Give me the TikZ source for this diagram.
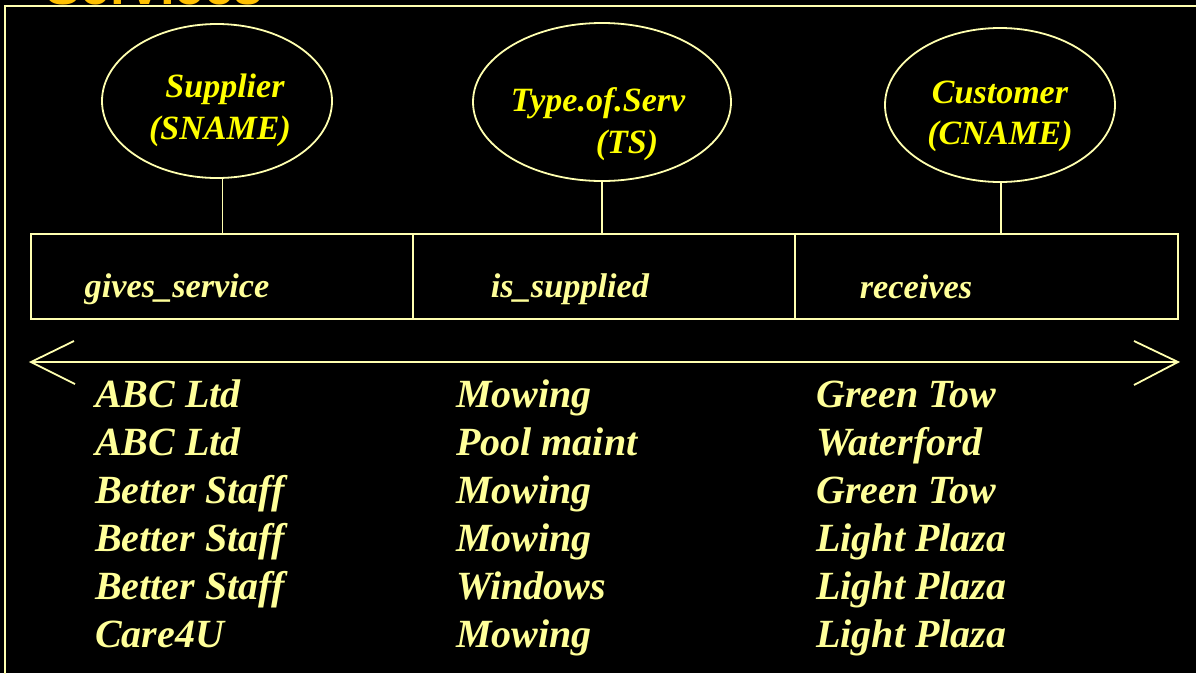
\documentclass[tikz,border=0pt]{standalone}
\usepackage{fontspec}
\setmainfont{Liberation Serif}
\newfontfamily\titlefont{Liberation Sans}
\usetikzlibrary{shapes.geometric}
\definecolor{frameline}{HTML}{FFFFB0}
\definecolor{rowtext}{HTML}{FFFF99}
\definecolor{attrtext}{HTML}{FFFF00}
\definecolor{titletext}{HTML}{FFC000}
\tikzset{
  rule/.style={draw=frameline, line width=1.8pt},
  attr/.style={ellipse, rule, minimum width=230pt, minimum height=154pt, inner sep=0pt},
  attrlabel/.style={text=attrtext, inner sep=0pt, font=\fontsize{34}{40}\selectfont\bfseries\itshape},
  cell/.style={rectangle, rule, minimum height=85pt, inner sep=0pt},
  rolelabel/.style={text=rowtext, inner sep=0pt, anchor=base, font=\fontsize{34.3}{40}\selectfont\bfseries\itshape},
  entry/.style={text=rowtext, inner sep=0pt, anchor=base west, font=\fontsize{40}{48}\selectfont\bfseries\itshape},
}
\begin{document}
\begin{tikzpicture}[x=1pt, y=-1pt]
  \fill[black] (0,0) rectangle (1196,673);
  \useasboundingbox (0,0) rectangle (1196,673);

  % heading, mostly above the page edge
  \node[anchor=base west, inner sep=0pt, text=titletext,
        font=\fontsize{53}{60}\selectfont\titlefont\bfseries] (heading) at (45,4) {Services};

  % outer frame running off the right and bottom edges
  \draw[rule] (5,700) -- (5,6) -- (1220,6);

  % attribute ellipses
  \node[attr] (supplier) at (217,101) {};
  \node[attr, minimum width=258pt, minimum height=158pt] (typeserv) at (602,102) {};
  \node[attr] (customer) at (1000,105) {};

  \node[attrlabel, anchor=base] (supA) at (225,97) {Supplier};
  \node[attrlabel, anchor=base] (supB) at (220,139) {(SNAME)};
  \node[attrlabel, anchor=base] (tsA) at (598,111) {Type.of.Serv};
  \node[attrlabel, anchor=base] (tsB) at (627,153) {(TS)};
  \node[attrlabel, anchor=base] (cuA) at (1000,103) {Customer};
  \node[attrlabel, anchor=base] (cuB) at (1000,144) {(CNAME)};

  % relationship role cells
  \node[cell, minimum width=382pt] (gives) at (222,276.5) {};
  \node[cell, minimum width=382pt] (issup) at (604,276.5) {};
  \node[cell, minimum width=383pt] (recv) at (986.5,276.5) {};

  \node[rolelabel] (givesT) at (177,297) {gives\_service};
  \node[rolelabel] (issupT) at (570,297) {is\_supplied};
  \node[rolelabel] (recvT) at (916,298) {receives};

  % ellipse-to-cell links
  \draw[rule] (supplier.-86) -- (supplier.-86 |- gives.north);
  \draw[rule] (typeserv.south) -- (typeserv.south |- issup.north);
  \draw[rule] (customer.-89) -- (customer.-89 |- recv.north);

  % double-headed span line with open chevrons
  \coordinate (spanL) at (31,362);
  \coordinate (spanR) at (1178,362);
  \draw[rule] (spanL) -- (spanR);
  \draw[rule] (74,341) -- (spanL) -- (75,384);
  \draw[rule] (1134,341) -- (spanR) -- (1134,385);

  % relationship instances
  \foreach \y/\s/\t/\c [count=\i] in {
      407/ABC Ltd/Mowing/Green Tow,
      455/ABC Ltd/Pool maint/Waterford,
      503/Better Staff/Mowing/Green Tow,
      551/Better Staff/Mowing/Light Plaza,
      599/Better Staff/Windows/Light Plaza,
      647/Care4U/Mowing/Light Plaza} {
    \node[entry] (s\i) at (95,\y) {\s};
    \node[entry] (t\i) at (456,\y) {\t};
    \node[entry] (c\i) at (816,\y) {\c};
  }
\end{tikzpicture}
\end{document}
